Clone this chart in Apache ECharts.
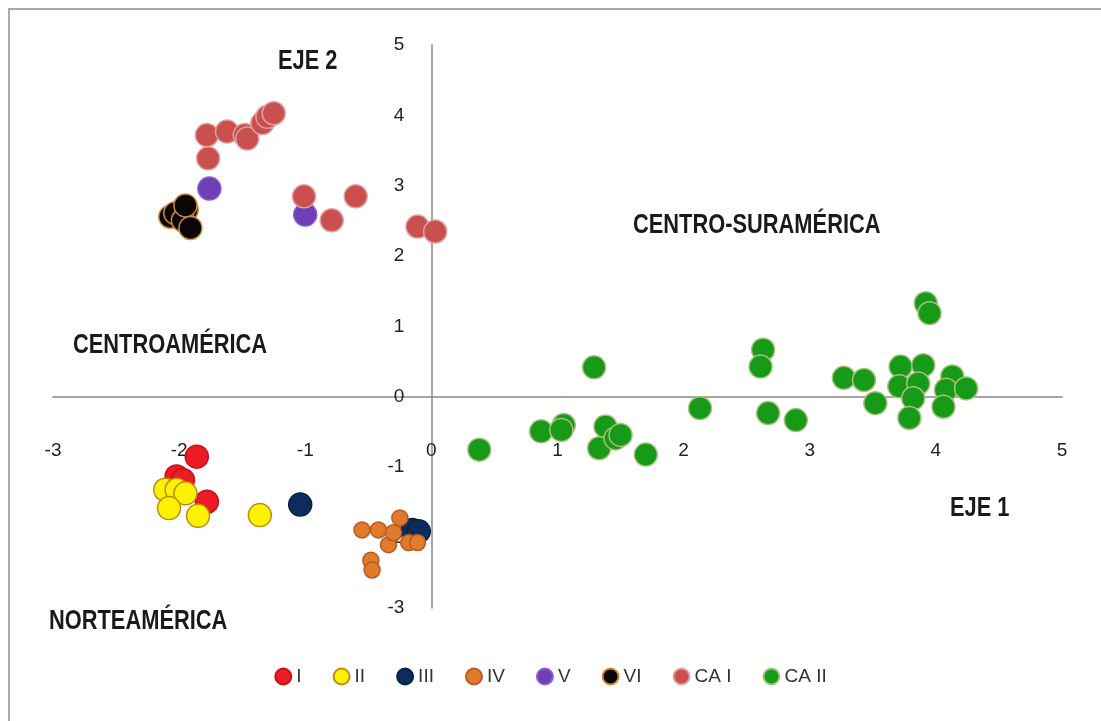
<!DOCTYPE html>
<html>
<head>
<meta charset="utf-8">
<script src="https://cdn.jsdelivr.net/npm/echarts@6/dist/echarts.min.js"></script>
<style>
html,body{margin:0;padding:0;background:#fff;}
#chart{width:1101px;height:721px;}
</style>
</head>
<body>
<div id="chart"></div>
<script>
// puntos (eje 1, eje 2)
var grupoI = [[-1.86,-0.85],[-2.02,-1.13],[-1.97,-1.18],[-1.78,-1.49]];
var grupoII = [[-2.11,-1.32],[-2.02,-1.32],[-1.95,-1.37],[-2.08,-1.58],[-1.85,-1.69],[-1.36,-1.68]];
var grupoIII = [[-1.04,-1.53],[-0.15,-1.89],[-0.10,-1.91]];
var grupoIV = [[-0.55,-1.89],[-0.42,-1.89],[-0.25,-1.72],[-0.34,-2.10],[-0.30,-1.93],[-0.18,-2.07],[-0.11,-2.07],[-0.48,-2.32],[-0.47,-2.46]];
var grupoV = [[-1.76,2.96],[-1.00,2.59]];
var grupoVI = [[-2.07,2.56],[-2.03,2.61],[-1.94,2.66],[-1.97,2.51],[-1.91,2.40],[-1.95,2.72]];
var grupoCAI = [[-1.78,3.72],[-1.62,3.77],[-1.48,3.72],[-1.46,3.67],[-1.34,3.89],[-1.30,3.98],[-1.25,4.03],
    [-1.77,3.39],[-1.01,2.85],[-0.79,2.51],[-0.60,2.85],[-0.11,2.42],[0.03,2.35]];
var grupoCAII = [[1.29,0.42],[2.13,-0.16],[0.38,-0.75],[0.87,-0.49],[1.05,-0.40],[1.03,-0.47],[1.38,-0.42],
    [1.33,-0.73],[1.46,-0.59],[1.50,-0.54],[1.70,-0.82],[2.63,0.67],[2.61,0.43],[2.67,-0.23],[2.89,-0.33],
    [3.92,1.33],[3.95,1.19],[3.27,0.27],[3.43,0.24],[3.52,-0.09],[3.72,0.43],[3.71,0.15],[3.90,0.45],
    [3.86,0.19],[3.82,-0.02],[3.79,-0.30],[4.13,0.29],[4.08,0.10],[4.24,0.12],[4.06,-0.14]];

var nombres = ['I','II','III','IV','V','VI','CA I','CA II'];
var datos = [grupoI,grupoII,grupoIII,grupoIV,grupoV,grupoVI,grupoCAI,grupoCAII];
var relleno = ['#ec1b24','#fff200','#0c2d5c','#e27a2e','#6e3fb6','#0a0604','#c9504e','#179a17'];
var borde = ['#c0121a','#c08a10','#0a2040','#b85a20','#8a60d0','#d08a40','#e0a0a0','#a8c080'];
var tamano = [23,23,23,16,23,23,23,23];

var serie = [];
for (var i = 0; i < nombres.length; i++) {
    serie.push({
        name: nombres[i],
        type: 'scatter',
        symbolSize: tamano[i],
        data: datos[i],
        itemStyle: {color: relleno[i], borderColor: borde[i], borderWidth: 1.5, opacity: 1}
    });
}

var fuente = '"Liberation Sans", Arial, sans-serif';
// texto condensado (arial narrow en el original)
function rotulo(txt, x, y) {
    return {type: 'text', x: x, y: y, scaleX: 0.78,
        style: {text: txt, fill: '#1a1a1a', font: 'bold 28px ' + fuente, textVerticalAlign: 'top'}};
}

var chart = echarts.init(document.getElementById('chart'));
var option = {
    backgroundColor: '#fff',
    animation: false,
    grid: {left: 53, right: 39, top: 45, bottom: 113},
    legend: {
        data: nombres,
        bottom: 30,
        left: 'center',
        icon: 'circle',
        itemWidth: 16,
        itemHeight: 16,
        itemGap: 31,
        textStyle: {fontSize: 19, color: '#333', fontFamily: fuente}
    },
    xAxis: {
        type: 'value', min: -3, max: 5, interval: 1,
        offset: -211,
        axisLine: {onZero: false, lineStyle: {color: '#888', width: 1.5}},
        axisTick: {show: false},
        splitLine: {show: false},
        axisLabel: {margin: 44, fontSize: 19, color: '#222', fontFamily: fuente}
    },
    yAxis: {
        type: 'value', min: -3, max: 5, interval: 1,
        offset: -378.4,
        axisLine: {onZero: false, lineStyle: {color: '#888', width: 1.5}},
        axisTick: {show: false},
        splitLine: {show: false},
        axisLabel: {margin: 27, fontSize: 19, color: '#222', fontFamily: fuente}
    },
    graphic: [
        {type: 'polyline', shape: {points: [[9, 721], [9, 9], [1101, 9]]}, style: {fill: 'none', stroke: '#aaa', lineWidth: 2}},
        rotulo('EJE 2', 278, 47),
        rotulo('CENTRO-SURAMÉRICA', 633, 211),
        rotulo('CENTROAMÉRICA', 73, 331),
        rotulo('NORTEAMÉRICA', 49, 607),
        rotulo('EJE 1', 950, 494)
    ],
    series: serie
};
chart.setOption(option);
</script>
</body>
</html>
